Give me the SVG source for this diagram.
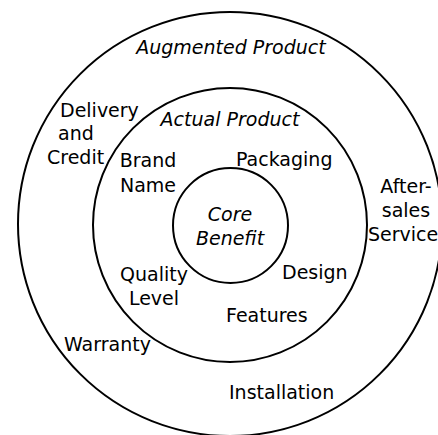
<svg xmlns="http://www.w3.org/2000/svg" width="438" height="435" viewBox="0 0 438 435">
<style>
.ring{fill:none;stroke:#000;stroke-width:2}
text{font-family:"DejaVu Sans","Liberation Sans",sans-serif;font-size:19px;fill:#000}
.it{font-style:italic}
.c{text-anchor:middle}
</style>
<rect width="438" height="435" fill="#fff"/>
<g id="augmented">
<circle class="ring" cx="230" cy="224" r="212"/>
<text class="it c" x="231" y="54">Augmented Product</text>
<text x="60" y="117">Delivery</text>
<text x="58" y="140">and</text>
<text x="47" y="164">Credit</text>
<text class="c" x="406" y="193">After-</text>
<text class="c" x="406" y="217">sales</text>
<text class="c" x="403" y="241">Service</text>
<text x="64" y="351">Warranty</text>
<text x="229" y="399">Installation</text>
</g>
<g id="actual">
<circle class="ring" cx="230" cy="225" r="137"/>
<text class="it c" x="230" y="126">Actual Product</text>
<text class="c" x="148" y="167">Brand</text>
<text class="c" x="148" y="192">Name</text>
<text x="236" y="166">Packaging</text>
<text class="c" x="154" y="281">Quality</text>
<text class="c" x="154" y="305">Level</text>
<text x="282" y="279">Design</text>
<text x="226" y="322">Features</text>
</g>
<g id="core">
<circle class="ring" cx="230.5" cy="225.5" r="57.5"/>
<text class="it c" x="230" y="221">Core</text>
<text class="it c" x="230" y="245">Benefit</text>
</g>
<g id="connectors"></g>
</svg>
